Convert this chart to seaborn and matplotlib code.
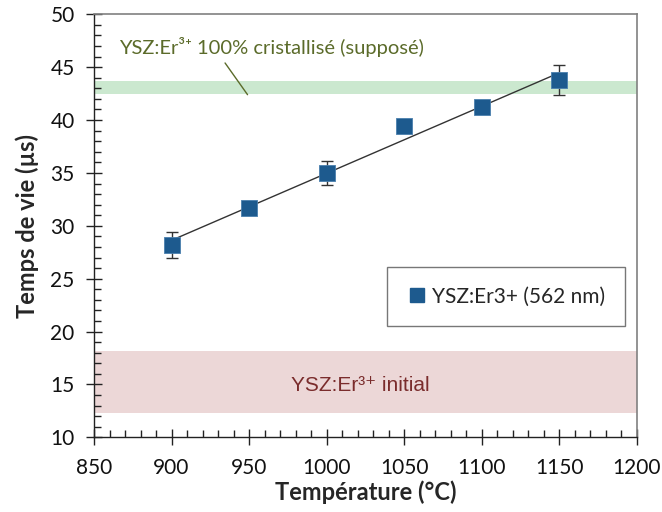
import numpy as np
import pandas as pd
import matplotlib.pyplot as plt
from matplotlib.ticker import MultipleLocator
from matplotlib.lines import Line2D
import seaborn as sns

# Data
temperature = [900, 950, 1000, 1050, 1100, 1150]
lifetime    = [28.2, 31.7, 35.0, 39.4, 41.2, 43.8]
lifetime_err = [1.2, 0.4, 1.1, 0.0, 0.0, 1.4]
crystal_band = (42.5, 43.7)
initial_band = (12.3, 18.2)

df = pd.DataFrame({'T': temperature, 'tau': lifetime, 'err': lifetime_err})

sns.set_theme(style='white')
plt.rcParams['font.family'] = ['Lato', 'DejaVu Sans']

BLUE = '#1d5a8e'

fig = plt.figure(figsize=(6.62, 5.12), dpi=100)
ax = fig.add_axes([0.142, 0.146, 0.820, 0.826])

# reference bands
ax.axhspan(*crystal_band, color='#cbe8cf', lw=0, zorder=0)
ax.axhspan(*initial_band, color='#ecd7d7', lw=0, zorder=0)

# linear trend line
sns.regplot(data=df, x='T', y='tau', scatter=False, ci=None, truncate=True,
            line_kws=dict(color='#333333', lw=1.0), ax=ax)

# points + error bars
ax.errorbar(df['T'], df['tau'], yerr=df['err'], fmt='none',
            ecolor='#333333', elinewidth=1.0, capsize=4, capthick=1.0, zorder=3)
sns.scatterplot(data=df, x='T', y='tau', marker='s', s=140, color=BLUE,
                edgecolor='#4a7fae', linewidth=0.6, ax=ax, zorder=4)

ax.set_xlim(850, 1200)
ax.set_ylim(10, 50)
ax.xaxis.set_major_locator(MultipleLocator(50))
ax.xaxis.set_minor_locator(MultipleLocator(10))
ax.yaxis.set_major_locator(MultipleLocator(5))
ax.yaxis.set_minor_locator(MultipleLocator(1))
ax.tick_params(which='major', direction='inout', length=12, width=1.0,
               color='#222222', labelsize=15, labelcolor='#111111')
ax.tick_params(axis='x', which='major', pad=9)
ax.tick_params(axis='y', which='major', pad=8)
ax.tick_params(which='minor', direction='in', length=5, width=1.0, color='#222222')
ax.tick_params(axis='both', which='both', bottom=True, left=True)

for side in ['left', 'bottom']:
    ax.spines[side].set_color('#222222')
    ax.spines[side].set_linewidth(1.0)
for side in ['top', 'right']:
    ax.spines[side].set_color('#808080')
    ax.spines[side].set_linewidth(1.2)

ax.set_xlabel('Température (°C)', fontsize=17, fontweight='bold', labelpad=2)
ax.set_ylabel('Temps de vie (µs)', fontsize=17, fontweight='bold', labelpad=8)

# annotations
ax.text(866, 46.9, 'YSZ:Er³⁺ 100% cristallisé (supposé)', color='#5b6b2a',
        fontsize=14.5, va='center', ha='left')
ax.annotate('', xy=(949, 42.4), xytext=(934.5, 45.4),
            arrowprops=dict(arrowstyle='-', color='#5b6b2a', lw=1.0,
                            shrinkA=0, shrinkB=0))
ax.text(1022, 14.9, 'YSZ:Er³⁺ initial', color='#7a2c2c', fontsize=15,
        va='center', ha='center', family=['Liberation Sans', 'DejaVu Sans'])

handle = Line2D([], [], marker='s', ls='none', color=BLUE, markersize=10)
leg = ax.legend([handle], ['YSZ:Er3+ (562 nm)'], loc='center',
                bbox_to_anchor=(0.54, 0.258, 0.438, 0.149), mode='expand',
                fontsize=15, frameon=True, fancybox=False, handletextpad=0.2,
                borderpad=0.95, borderaxespad=0, handlelength=1.0)
leg.get_frame().set_edgecolor('#555555')
leg.get_frame().set_linewidth(1.0)

fig.savefig('out.png', dpi=100)
